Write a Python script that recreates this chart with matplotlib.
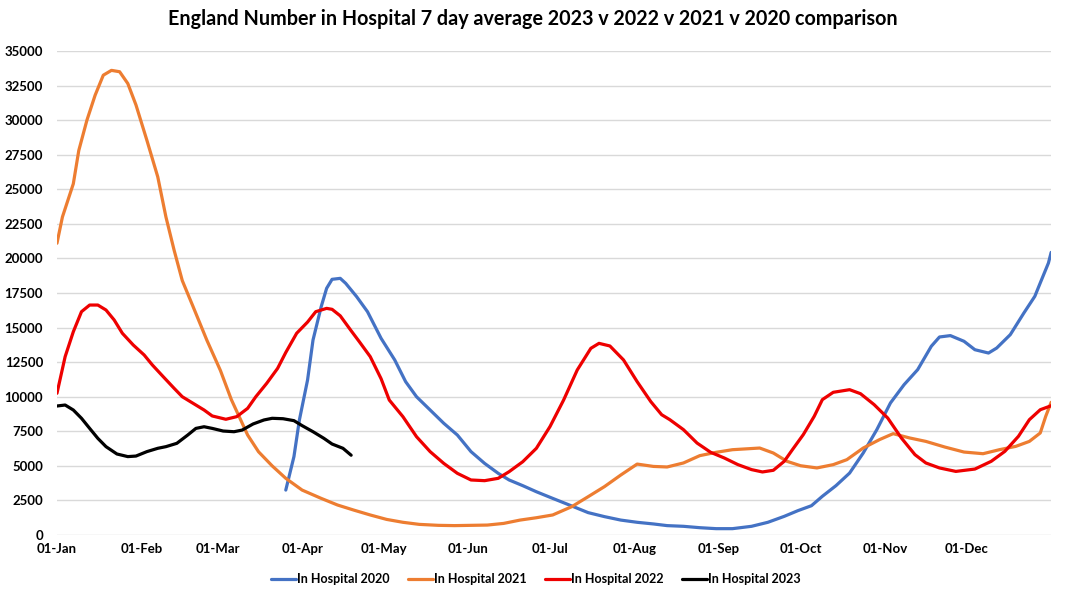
import matplotlib
matplotlib.use('Agg')
from matplotlib import pyplot as plt

# day of year (0 = 01-Jan) and 7 day average patients in hospital
days_2020 = [84, 87, 89, 92, 94, 97, 99, 101, 104, 106, 110, 114, 119, 124, 128, 132, 137, 142,
             147, 152, 157, 162, 166, 171, 176, 182, 189, 195, 201, 207, 213, 219, 224, 230, 236,
             242, 248, 255, 261, 267, 272, 277, 281, 286, 291, 296, 301, 306, 311, 316, 321, 324,
             328, 333, 337, 342, 345, 350, 355, 359, 361, 364, 365]
vals_2020 = [3250, 5670, 8320, 11210, 14100, 16510, 17840, 18490, 18560, 18200, 17240, 16150, 14220,
             12660, 11090, 10000, 9040, 8080, 7230, 6030, 5180, 4460, 3980, 3570, 3130, 2650, 2100,
             1620, 1330, 1080, 920, 800, 680, 630, 530, 460, 460, 630, 920, 1350, 1760, 2120, 2800,
             3570, 4480, 5930, 7620, 9550, 10870, 11960, 13650, 14320, 14420, 14010, 13400, 13160,
             13520, 14490, 16060, 17260, 18230, 19670, 20440]

days_2021 = [0, 2, 4, 6, 8, 11, 14, 17, 20, 23, 26, 29, 33, 37, 40, 43, 46, 50, 55, 60, 64, 70,
             74, 79, 84, 90, 97, 103, 109, 115, 121, 127, 133, 140, 146, 152, 158, 164, 170, 176,
             182, 189, 195, 201, 207, 213, 219, 224, 230, 236, 242, 248, 258, 263, 268, 273, 279,
             285, 290, 296, 302, 307, 313, 319, 326, 333, 340, 346, 352, 357, 361, 363, 365]
vals_2021 = [21100, 23000, 24200, 25400, 27800, 30000, 31800, 33250, 33600, 33500, 32650, 31100,
             28550, 25900, 23000, 20600, 18400, 16500, 14100, 11900, 9800, 7230, 6020, 5000, 4100,
             3250, 2650, 2170, 1800, 1450, 1130, 920, 770, 700, 680, 700, 720, 840, 1080, 1250,
             1450, 2050, 2770, 3500, 4340, 5130, 4960, 4920, 5210, 5740, 5980, 6170, 6290, 5930,
             5330, 5010, 4850, 5090, 5450, 6290, 6900, 7330, 7020, 6770, 6360, 6000, 5880, 6170,
             6410, 6770, 7380, 8580, 9600]

days_2022 = [0, 3, 6, 9, 12, 15, 18, 21, 24, 28, 32, 35, 39, 43, 46, 50, 54, 57, 62, 66, 70, 73,
             77, 81, 84, 88, 92, 95, 99, 101, 104, 108, 111, 115, 119, 122, 127, 132, 137, 142,
             147, 152, 157, 162, 166, 171, 176, 181, 186, 191, 196, 199, 203, 208, 213, 218, 222,
             225, 230, 235, 240, 245, 250, 255, 259, 263, 267, 270, 274, 278, 281, 285, 291, 295,
             300, 305, 310, 315, 319, 324, 330, 337, 343, 348, 353, 357, 361, 365]
vals_2022 = [10250, 12900, 14700, 16150, 16630, 16630, 16270, 15550, 14590, 13740, 13020, 12300,
             11450, 10610, 10000, 9520, 9040, 8610, 8370, 8560, 9160, 10000, 10970, 12050, 13200,
             14590, 15400, 16150, 16390, 16320, 15850, 14770, 13980, 12900, 11300, 9760, 8560,
             7110, 6030, 5180, 4460, 3980, 3930, 4100, 4580, 5300, 6270, 7840, 9760, 11930, 13500,
             13860, 13670, 12660, 11090, 9650, 8700, 8340, 7620, 6650, 5980, 5570, 5090, 4730,
             4560, 4680, 5330, 6170, 7260, 8580, 9790, 10320, 10510, 10220, 9430, 8460, 7020, 5810,
             5210, 4850, 4600, 4770, 5330, 6050, 7140, 8340, 9060, 9350]

days_2023 = [0, 3, 6, 9, 12, 15, 18, 22, 26, 29, 33, 37, 40, 44, 48, 51, 54, 57, 61, 65, 68, 72,
             76, 79, 83, 87, 90, 94, 98, 101, 105, 108]
vals_2023 = [9330, 9400, 9040, 8440, 7710, 6990, 6390, 5860, 5670, 5710, 6030, 6270, 6390, 6630,
             7230, 7710, 7830, 7710, 7520, 7470, 7590, 8030, 8320, 8440, 8410, 8270, 7910, 7470,
             6990, 6580, 6270, 5770]

month_starts = [0, 31, 59, 90, 120, 151, 181, 212, 243, 273, 304, 334]
month_labels = ['01-Jan', '01-Feb', '01-Mar', '01-Apr', '01-May', '01-Jun',
                '01-Jul', '01-Aug', '01-Sep', '01-Oct', '01-Nov', '01-Dec']

plt.rcParams['font.family'] = ['Lato', 'DejaVu Sans']

fig = plt.figure(figsize=(10.65, 6), dpi=100)
ax = fig.add_axes([0.0535, 0.1083, 0.9335, 0.8067])

lw = 2.3
style = dict(lw=lw, solid_capstyle='round', solid_joinstyle='round')
ax.plot(days_2020, vals_2020, color='#4472C4', label='In Hospital 2020', **style)
ax.plot(days_2021, vals_2021, color='#ED7D31', label='In Hospital 2021', **style)
ax.plot(days_2022, vals_2022, color='#EE0000', label='In Hospital 2022', **style)
ax.plot(days_2023, vals_2023, color='#000000', label='In Hospital 2023', **style)

ax.set_xlim(0, 365)
ax.set_ylim(0, 35000)
ax.set_yticks(range(0, 35001, 2500))
ax.set_xticks(month_starts)
ax.set_xticklabels(month_labels)
ax.grid(axis='y', color='#d9d9d9', lw=1)
ax.set_axisbelow(True)
for s in ax.spines.values():
    s.set_visible(False)
ax.tick_params(length=0, labelsize=9.5)
ax.tick_params(axis='y', pad=10)
ax.tick_params(axis='x', pad=6)
for t in ax.get_xticklabels() + ax.get_yticklabels():
    t.set_fontweight('bold')

fig.suptitle('England Number in Hospital 7 day average 2023 v 2022 v 2021 v 2020 comparison',
             x=0.5, y=0.985, fontsize=14.2, fontweight='bold')

leg = fig.legend(loc='center', bbox_to_anchor=(0.503, 0.035), ncol=4, frameon=False,
                 handlelength=2.0, handletextpad=0.05, columnspacing=1.5,
                 prop={'weight': 'bold', 'size': 9})

fig.savefig('out.png', dpi=100)
